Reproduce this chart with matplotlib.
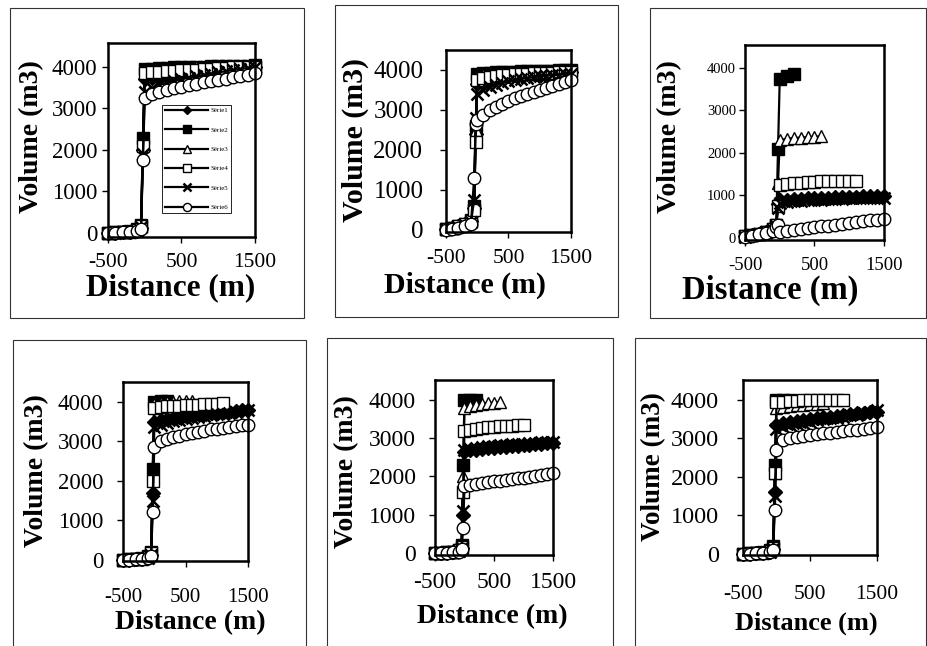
import matplotlib.pyplot as plt
from matplotlib.patches import Rectangle

plt.rcParams['font.family'] = ['Liberation Serif', 'DejaVu Serif']
plt.rcParams['axes.unicode_minus'] = False

W, H = 928, 646

# distance along the channel (m), shared by every series
distance = [-500, -400, -300, -200, -100, -50, -25, 0, 100, 200, 300, 400, 500,
            600, 700, 800, 900, 1000, 1100, 1200, 1300, 1400, 1500]
series_names = ['Série1', 'Série2', 'Série3', 'Série4', 'Série5', 'Série6']
x_ticks = [-500, 500, 1500]
y_ticks = [0, 1000, 2000, 3000, 4000]

# volumes (m3), one list per series, panels read left-right, top-bottom
panel1 = [
    [0, 5, 10, 20, 50, 120, 2000, 3700, 3740, 3770, 3800, 3820, 3840, 3860, 3880, 3900, 3910, 3920, 3940, 3950, 3960, 3980, 4000],
    [0, 10, 20, 40, 90, 200, 2300, 3950, 3960, 3970, 3980, 3990, 4000, 4000, 4010, 4010, 4020, 4020, 4020, 4030, 4030, 4030, 4040],
    [0, 10, 20, 40, 80, 180, 2200, 3900, 3920, 3940, 3950, 3960, 3970, 3980, 3990, 4000, 4000, 4010, 4010, 4020, 4020, 4030, 4030],
    [0, 10, 20, 30, 70, 160, 2100, 3850, 3870, 3890, 3900, 3910, 3920, 3930, 3940, 3950, 3960, 3970, 3980, 3990, 4000, 4000, 4010],
    [0, 5, 10, 20, 50, 130, 1900, 3400, 3500, 3570, 3620, 3670, 3710, 3740, 3780, 3810, 3840, 3870, 3900, 3930, 3950, 3980, 4000],
    [0, 5, 10, 20, 40, 100, 1750, 3250, 3350, 3400, 3450, 3490, 3530, 3560, 3600, 3630, 3660, 3690, 3720, 3750, 3780, 3810, 3850],
]
panel2 = [
    [30, 60, 100, 150, 230, 550, 2400, 3650, 3730, 3780, 3810, 3840, 3860, 3870, 3880, 3890, 3900, 3910, 3920, 3920, 3930, 3930, 3940],
    [30, 60, 100, 160, 250, 600, 2600, 3900, 3920, 3930, 3940, 3950, 3960, 3960, 3970, 3970, 3970, 3980, 3980, 3980, 3990, 3990, 3990],
    [30, 60, 100, 150, 240, 580, 2500, 3850, 3880, 3900, 3910, 3920, 3930, 3940, 3940, 3950, 3950, 3960, 3960, 3960, 3970, 3970, 3970],
    [30, 60, 90, 140, 220, 500, 2200, 3750, 3800, 3830, 3850, 3870, 3880, 3890, 3900, 3910, 3920, 3920, 3930, 3930, 3940, 3940, 3950],
    [20, 50, 80, 130, 200, 750, 2800, 3400, 3500, 3570, 3630, 3680, 3720, 3750, 3780, 3800, 3820, 3840, 3860, 3870, 3880, 3890, 3900],
    [10, 30, 60, 100, 160, 1300, 2650, 2750, 2880, 2990, 3080, 3160, 3230, 3290, 3350, 3410, 3460, 3510, 3560, 3600, 3650, 3700, 3750],
]
panel3 = [
    [40, 70, 100, 140, 200, 300, 800, 880, 900, 910, 920, 930, 940, 945, 950, 955, 960, 965, 970, 975, 980, 985, 990],
    [40, 70, 100, 140, 200, 300, 2100, 3750, 3800, 3850],
    [40, 70, 100, 140, 200, 300, 1300, 2300, 2330, 2350, 2360, 2370, 2380, 2390],
    [40, 70, 100, 140, 200, 300, 750, 1250, 1270, 1290, 1300, 1310, 1320, 1330, 1330, 1340, 1340, 1350, 1350],
    [30, 60, 90, 130, 190, 280, 700, 820, 840, 860, 870, 880, 890, 900, 910, 920, 925, 930, 935, 940, 945, 950, 950],
    [20, 50, 80, 110, 160, 250, 300, 150, 170, 190, 210, 230, 250, 270, 290, 310, 330, 350, 370, 390, 410, 430, 450],
]
panel4 = [
    [0, 5, 10, 20, 50, 120, 1700, 3500, 3540, 3570, 3600, 3620, 3640, 3660, 3680, 3700, 3710, 3720, 3740, 3750, 3770, 3780, 3800],
    [0, 10, 20, 40, 90, 200, 2300, 4000, 4010, 4010],
    [0, 10, 20, 40, 80, 180, 2100, 3950, 3980, 4000, 4000, 4010, 4010, 4020],
    [0, 10, 20, 30, 70, 160, 2000, 3850, 3870, 3880, 3890, 3900, 3910, 3920, 3930, 3940, 3950, 3950, 3960],
    [0, 5, 10, 20, 50, 130, 1500, 3350, 3420, 3470, 3510, 3540, 3570, 3600, 3620, 3640, 3660, 3680, 3700, 3720, 3740, 3770, 3800],
    [0, 5, 10, 20, 40, 100, 1200, 2850, 3000, 3050, 3100, 3140, 3180, 3210, 3240, 3270, 3300, 3320, 3340, 3360, 3380, 3400, 3420],
]
panel5 = [
    [0, 5, 10, 20, 50, 120, 1000, 2650, 2680, 2700, 2720, 2740, 2750, 2760, 2780, 2790, 2800, 2810, 2820, 2840, 2850, 2870, 2880],
    [0, 10, 20, 40, 90, 200, 2300, 4000, 4000, 3990],
    [0, 10, 20, 40, 80, 180, 2000, 3800, 3850, 3880, 3900, 3920, 3930, 3940],
    [0, 10, 20, 30, 70, 160, 1600, 3200, 3220, 3240, 3260, 3280, 3300, 3310, 3320, 3330, 3340, 3350],
    [0, 5, 10, 20, 50, 130, 1100, 2700, 2730, 2750, 2770, 2790, 2800, 2810, 2830, 2840, 2850, 2860, 2870, 2880, 2890, 2900, 2900],
    [0, 5, 10, 20, 40, 100, 650, 1750, 1780, 1800, 1830, 1850, 1870, 1890, 1910, 1930, 1950, 1970, 1990, 2010, 2030, 2060, 2090],
]
panel6 = [
    [0, 5, 10, 20, 50, 120, 1600, 3350, 3400, 3430, 3460, 3490, 3510, 3530, 3550, 3570, 3590, 3610, 3630, 3650, 3660, 3680, 3700],
    [0, 10, 20, 40, 90, 200, 2300, 4000, 4000, 3990],
    [0, 10, 20, 40, 80, 180, 2100, 3800, 3830, 3850, 3870, 3880, 3890, 3900, 3910],
    [0, 10, 20, 30, 70, 160, 2100, 3950, 3960, 3970, 3980, 3990, 4000, 4000, 4000, 4010, 4010, 4010],
    [0, 5, 10, 20, 50, 130, 1500, 3250, 3300, 3340, 3380, 3410, 3440, 3470, 3500, 3520, 3540, 3570, 3600, 3620, 3650, 3680, 3750],
    [0, 5, 10, 20, 40, 100, 1150, 2700, 2950, 3000, 3030, 3060, 3090, 3110, 3130, 3150, 3170, 3190, 3210, 3230, 3250, 3270, 3300],
]
panels = [panel1, panel2, panel3, panel4, panel5, panel6]

# marker look of each series (Excel default set, printed in black)
styles = [
    dict(marker='D', ms=7, mfc='black'),
    dict(marker='s', ms=8.5, mfc='black'),
    dict(marker='^', ms=9, mfc='white'),
    dict(marker='s', ms=8.5, mfc='white'),
    dict(marker='x', ms=8.5, mew=1.8),
    dict(marker='o', ms=9, mfc='white'),
]

# layout in pixels: outer box, plot area (l, t, r, b), label centres, sizes, pads
layout = [
    dict(box=(10, 8, 304, 318), area=(108, 43, 255, 237), ylim=(-100, 4580),
         xlab=(171, 288), ylab=(32, 137), xls=22.5, yls=20, xts=15.5, yts=16.5, xpad=6.9, ypad=3.6),
    dict(box=(335, 5, 618, 317), area=(446, 50, 571, 232), ylim=(-50, 4500),
         xlab=(465, 285), ylab=(355, 140), xls=21.5, yls=21.5, xts=15.5, yts=18, xpad=8.3, ypad=12),
    dict(box=(650, 8, 926, 318), area=(745, 45, 884, 240), ylim=(-50, 4540),
         xlab=(770, 290), ylab=(670, 137), xls=23.5, yls=20, xts=13.5, yts=10.5, xpad=7.6, ypad=2),
    dict(box=(13, 340, 306, 650), area=(123, 382, 248, 561), ylim=(-30, 4500),
         xlab=(190, 623), ylab=(37, 471), xls=20, yls=20, xts=15, yts=16.5, xpad=15, ypad=10),
    dict(box=(327, 338, 613, 650), area=(435, 380, 553, 555), ylim=(-50, 4520),
         xlab=(492, 617), ylab=(347, 472), xls=20, yls=20, xts=17, yts=17, xpad=7.8, ypad=9.4),
    dict(box=(635, 338, 926, 650), area=(743, 380, 877, 555), ylim=(-30, 4520),
         xlab=(806, 623), ylab=(654, 467), xls=19, yls=19.5, xts=15.5, yts=17.5, xpad=17, ypad=13),
]

fig = plt.figure(figsize=(W / 100, H / 100), dpi=100)

for k, (data, lay) in enumerate(zip(panels, layout)):
    bl, bt, br, bb = lay['box']
    fig.add_artist(Rectangle((bl / W, 1 - bb / H), (br - bl) / W, (bb - bt) / H,
                             transform=fig.transFigure, fill=False,
                             edgecolor='#333333', linewidth=0.8))

    l, t, r, b = lay['area']
    ax = fig.add_axes([l / W, 1 - b / H, (r - l) / W, (b - t) / H])

    for name, vals, st in zip(series_names, data, styles):
        ax.plot(distance[:len(vals)], vals, color='black', lw=1.6, mec='black',
                label=name, clip_on=False, **st)

    ax.set_xlim(-500, 1500)
    ax.set_ylim(*lay['ylim'])
    ax.set_xticks(x_ticks)
    ax.set_yticks(y_ticks)
    ax.tick_params(axis='x', direction='out', length=4.3, width=1,
                   labelsize=lay['xts'], pad=lay['xpad'])
    ax.tick_params(axis='y', direction='out', length=4.3, width=1,
                   labelsize=lay['yts'], pad=lay['ypad'])
    for sp in ax.spines.values():
        sp.set_linewidth(1.8)

    ax.set_xlabel('Distance (m)', fontsize=lay['xls'], fontweight='bold', va='center')
    ax.set_ylabel('Volume (m3)', fontsize=lay['yls'], fontweight='bold', va='center')
    cx, cy = lay['xlab']
    ax.xaxis.set_label_coords((cx - l) / (r - l), (b - cy) / (b - t))
    cx, cy = lay['ylab']
    ax.yaxis.set_label_coords((cx - l) / (r - l), (b - cy) / (b - t))

    if k == 0:
        leg = ax.legend(loc='lower left', bbox_to_anchor=(0.37, 0.124), fontsize=5,
                        handlelength=6.2, handletextpad=0.3, labelspacing=1.95,
                        borderaxespad=0, fancybox=False, edgecolor='black',
                        framealpha=1, markerscale=0.65)
        leg.get_frame().set_linewidth(0.6)

fig.savefig('out.png', dpi=100)
